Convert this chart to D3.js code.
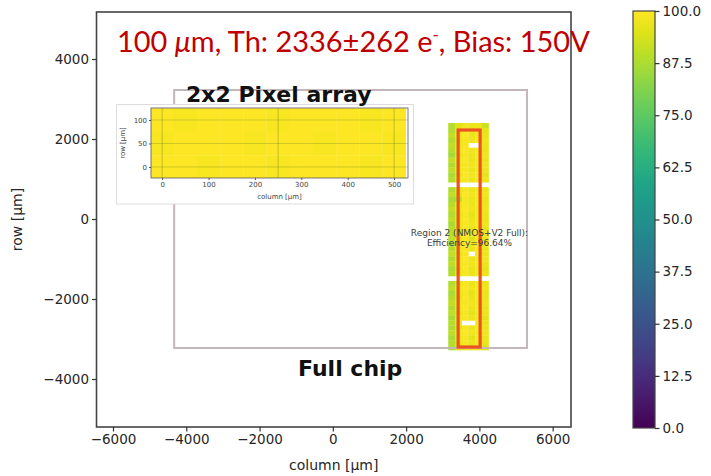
<!DOCTYPE html>
<html>
<head>
<meta charset="utf-8">
<script src="https://cdn.jsdelivr.net/npm/d3@7"></script>
<style>
  body { margin: 0; background: #fff; }
  svg { display: block; }
  .tick text { font-family: "DejaVu Sans", sans-serif; fill: #262626; }
</style>
</head>
<body>
<div id="vis"></div>
<script>
// ---- data ----
var xTicks = [-6000, -4000, -2000, 0, 2000, 4000, 6000];
var yTicks = [-4000, -2000, 0, 2000, 4000];
var cbarTicks = [0, 12.5, 25, 37.5, 50, 62.5, 75, 87.5, 100];

// full chip outline in um: [xmin, xmax, ymin, ymax]
var chipBounds = [-4330, 5300, -3225, 3225];
// measured strip (region 2) extent in um
var stripBoundsX = [3150, 4250];
var stripBoundsY = [-3275, 2400];
// red region-2 selection box in um
var regionBox = [3420, 4020, -3200, 2225];

// efficiency (%) per strip cell, top row first, null = no hits
var stripEff = [
  [89, 95, 98, 97, 97, 92],
  [88, 97, 100, 98, 100, 96],
  [91, 98, 100, 97, 99, 97],
  [88, 96, 99, 98, 100, 98],
  [90, 97, 99, null, null, 97],
  [89, 98, 100, 98, 99, 97],
  [86, 96, 99, 97, 100, 98],
  [91, 98, 100, 97, 99, 97],
  [88, 97, 99, 98, 100, 98],
  [90, 98, 99, 97, 99, 97],
  [87, 96, 100, 98, 100, 96],
  [89, 97, 99, 97, 99, 97],
  [null, null, null, null, null, null],
  [88, 96, 99, 97, 99, 97],
  [90, 94, 100, 98, 100, 98],
  [87, 89, 99, 97, 99, 97],
  [89, 97, 99, 97, 100, 97],
  [91, 98, 100, 98, 99, 98],
  [88, 96, 99, 96, 100, 97],
  [90, 97, 100, 97, 99, 97],
  [87, 98, 99, 98, 100, 98],
  [89, 96, 99, 96, 99, 96],
  [88, 97, 100, 97, 100, 97],
  [90, 95, 99, 95, 99, 97],
  [87, 97, 100, 97, 99, 98],
  [89, 98, 99, 97, 100, 97],
  [91, 96, 99, null, 99, 97],
  [88, 97, 100, 97, 99, 98],
  [90, 98, 99, 98, 100, 97],
  [87, 96, 100, 97, 99, 96],
  [89, 97, 99, 97, 99, 97],
  [null, null, null, null, null, null],
  [88, 96, 99, 97, 99, 97],
  [90, 98, 100, 98, 100, 98],
  [87, 97, 99, 96, 99, 97],
  [89, 96, 100, 97, 100, 97],
  [91, 98, 99, 98, 99, 98],
  [88, 97, 100, 97, 100, 97],
  [90, 96, 99, 96, 99, 97],
  [87, 98, 99, 97, 99, 96],
  [89, 97, null, null, 99, 97],
  [88, 96, 99, 97, 100, 97],
  [90, 98, 100, 98, 99, 98],
  [87, 97, 99, 96, 100, 97],
  [89, 96, 99, 97, 99, 97],
  [88, 95, 98, 97, 98, 95]
];

// inset: 2x2 pixel array, 50 um bins, top row first
var insetXTicks = [0, 100, 200, 300, 400, 500];
var insetYTicks = [0, 50, 100];
var insetGridX = [0, 250, 500];
var insetGridY = [0, 50, 100];
var insetEff = [
  [100, 99, 100, 100, 100, 99, 100, 100, 100, 99, 100],
  [99, 100, 100, 100, 99, 100, 100, 99, 100, 100, 99],
  [100, 100, 99, 100, 100, 99, 100, 100, 100, 99, 100]
];

var regionLabel = ['Region 2 (NMOS+V2 Full):', 'Efficiency=96.64%'];

// ---- layout ----
var width = 711, height = 476;
var plot = { left: 96.5, right: 571, top: 12, bottom: 427 };

var svg = d3.select('#vis').append('svg')
    .attr('width', width)
    .attr('height', height);

var color = d3.scaleSequential(d3.interpolateViridis).domain([0, 100]);

var x = d3.scaleLinear().domain([-6450, 6500]).range([plot.left, plot.right]);
var y = d3.scaleLinear().domain([-5200, 5175]).range([plot.bottom, plot.top]);

// frame
svg.append('rect')
    .attr('x', plot.left).attr('y', plot.top)
    .attr('width', plot.right - plot.left)
    .attr('height', plot.bottom - plot.top)
    .attr('fill', '#fff')
    .attr('stroke', '#444')
    .attr('stroke-width', 1.6);

// strip heatmap
var colBand = d3.scaleBand()
    .domain(d3.range(stripEff[0].length))
    .range([x(stripBoundsX[0]), x(stripBoundsX[1])]);
var rowBand = d3.scaleBand()
    .domain(d3.range(stripEff.length))
    .range([y(stripBoundsY[1]), y(stripBoundsY[0])]);

var cells = [];
stripEff.forEach(function (row, i) {
    row.forEach(function (v, j) {
        if (v !== null) cells.push({ r: i, c: j, v: v });
    });
});

svg.append('g').selectAll('rect')
    .data(cells)
    .enter().append('rect')
    .attr('x', function (d) { return colBand(d.c); })
    .attr('y', function (d) { return rowBand(d.r); })
    .attr('width', colBand.bandwidth() + 0.3)
    .attr('height', rowBand.bandwidth() + 0.3)
    .attr('fill', function (d) { return color(d.v); });

// chip outline
svg.append('rect')
    .attr('x', x(chipBounds[0]))
    .attr('y', y(chipBounds[3]))
    .attr('width', x(chipBounds[1]) - x(chipBounds[0]))
    .attr('height', y(chipBounds[2]) - y(chipBounds[3]))
    .attr('fill', 'none')
    .attr('stroke', '#c4b6ba')
    .attr('stroke-width', 2);

// region box
svg.append('rect')
    .attr('x', x(regionBox[0]))
    .attr('y', y(regionBox[3]))
    .attr('width', x(regionBox[1]) - x(regionBox[0]))
    .attr('height', y(regionBox[2]) - y(regionBox[3]))
    .attr('fill', 'none')
    .attr('stroke', '#ec5222')
    .attr('stroke-width', 3.2);

// region label
svg.append('text')
    .attr('x', 469.5).attr('y', 236)
    .attr('text-anchor', 'middle')
    .style('font-family', 'DejaVu Sans, sans-serif')
    .style('font-size', '9px')
    .attr('fill', '#3c3c3c')
    .selectAll('tspan')
    .data(regionLabel)
    .enter().append('tspan')
    .attr('x', 469.5)
    .attr('dy', function (d, i) { return i === 0 ? 0 : 10; })
    .text(function (d) { return d; });

// axes
var xAxis = svg.append('g')
    .attr('transform', 'translate(0,' + plot.bottom + ')')
    .call(d3.axisBottom(x).tickValues(xTicks).tickSize(4.5).tickPadding(3)
        .tickFormat(function (d) { return d < 0 ? '\u2212' + Math.abs(d) : d; }));
var yAxis = svg.append('g')
    .attr('transform', 'translate(' + plot.left + ',0)')
    .call(d3.axisLeft(y).tickValues(yTicks).tickSize(4.5).tickPadding(3)
        .tickFormat(function (d) { return d < 0 ? '\u2212' + Math.abs(d) : d; }));
[xAxis, yAxis].forEach(function (a) {
    a.select('.domain').remove();
    a.selectAll('.tick line').attr('stroke', '#333').attr('stroke-width', 1.2);
    a.selectAll('.tick text').style('font-size', '13.5px');
});

svg.append('text')
    .attr('x', (plot.left + plot.right) / 2).attr('y', 470)
    .attr('text-anchor', 'middle')
    .style('font-family', 'DejaVu Sans, sans-serif')
    .style('font-size', '14px')
    .attr('fill', '#262626')
    .text('column [\u03bcm]');

svg.append('text')
    .attr('transform', 'translate(22,' + ((plot.top + plot.bottom) / 2) + ') rotate(-90)')
    .attr('text-anchor', 'middle')
    .style('font-family', 'DejaVu Sans, sans-serif')
    .style('font-size', '14px')
    .attr('fill', '#262626')
    .text('row [\u03bcm]');

// inset
var inset = { left: 151, right: 408, top: 108, bottom: 178 };
svg.append('rect')
    .attr('x', 116.5).attr('y', 104.5)
    .attr('width', 297).attr('height', 99.5)
    .attr('fill', '#fff')
    .attr('stroke', '#ddd')
    .attr('stroke-width', 1);

var ix = d3.scaleLinear().domain([-24, 530]).range([inset.left, inset.right]);
var iy = d3.scaleLinear().domain([-23.5, 125.5]).range([inset.bottom, inset.top]);

var insetCells = [];
insetEff.forEach(function (row, i) {
    row.forEach(function (v, j) {
        insetCells.push({ r: i, c: j, v: v });
    });
});
var icol = d3.scaleBand().domain(d3.range(insetEff[0].length)).range([ix(-25), ix(525)]);
var irow = d3.scaleBand().domain(d3.range(insetEff.length)).range([iy(125), iy(-25)]);

var ig = svg.append('g');
ig.append('clipPath').attr('id', 'insetclip')
    .append('rect')
    .attr('x', inset.left).attr('y', inset.top)
    .attr('width', inset.right - inset.left)
    .attr('height', inset.bottom - inset.top);
var icells = ig.append('g').attr('clip-path', 'url(#insetclip)');
icells.selectAll('rect')
    .data(insetCells)
    .enter().append('rect')
    .attr('x', function (d) { return icol(d.c); })
    .attr('y', function (d) { return irow(d.r); })
    .attr('width', icol.bandwidth() + 0.3)
    .attr('height', irow.bandwidth() + 0.3)
    .attr('fill', function (d) { return color(d.v); });
icells.selectAll('.gx')
    .data(insetGridX)
    .enter().append('line')
    .attr('x1', function (d) { return ix(d); })
    .attr('x2', function (d) { return ix(d); })
    .attr('y1', inset.top).attr('y2', inset.bottom)
    .attr('stroke', '#6b7a2a').attr('stroke-opacity', 0.4).attr('stroke-width', 1);
icells.selectAll('.gy')
    .data(insetGridY)
    .enter().append('line')
    .attr('y1', function (d) { return iy(d); })
    .attr('y2', function (d) { return iy(d); })
    .attr('x1', inset.left).attr('x2', inset.right)
    .attr('stroke', '#6b7a2a').attr('stroke-opacity', 0.3).attr('stroke-width', 1);
ig.append('rect')
    .attr('x', inset.left).attr('y', inset.top)
    .attr('width', inset.right - inset.left)
    .attr('height', inset.bottom - inset.top)
    .attr('fill', 'none')
    .attr('stroke', '#555').attr('stroke-width', 0.8);

var ixAxis = ig.append('g')
    .attr('transform', 'translate(0,' + inset.bottom + ')')
    .call(d3.axisBottom(ix).tickValues(insetXTicks).tickSize(2).tickPadding(2));
var iyAxis = ig.append('g')
    .attr('transform', 'translate(' + inset.left + ',0)')
    .call(d3.axisLeft(iy).tickValues(insetYTicks).tickSize(2).tickPadding(2));
[ixAxis, iyAxis].forEach(function (a) {
    a.select('.domain').remove();
    a.selectAll('.tick line').attr('stroke', '#555');
    a.selectAll('.tick text').style('font-size', '7px').style('fill', '#444');
});
ig.append('text')
    .attr('x', (inset.left + inset.right) / 2).attr('y', 199)
    .attr('text-anchor', 'middle')
    .style('font-family', 'DejaVu Sans, sans-serif')
    .style('font-size', '7px')
    .attr('fill', '#444')
    .text('column [\u03bcm]');
ig.append('text')
    .attr('transform', 'translate(125,' + ((inset.top + inset.bottom) / 2) + ') rotate(-90)')
    .attr('text-anchor', 'middle')
    .style('font-family', 'DejaVu Sans, sans-serif')
    .style('font-size', '7px')
    .attr('fill', '#444')
    .text('row [\u03bcm]');

// annotations
svg.append('text')
    .attr('x', 186).attr('y', 102)
    .style('font-family', 'DejaVu Sans, sans-serif')
    .style('font-weight', 'bold')
    .style('font-size', '22px')
    .attr('fill', '#111')
    .text('2x2 Pixel array');

svg.append('text')
    .attr('x', 298).attr('y', 376)
    .style('font-family', 'DejaVu Sans, sans-serif')
    .style('font-weight', 'bold')
    .style('font-size', '22px')
    .attr('fill', '#111')
    .text('Full chip');

// title
var title = svg.append('text')
    .attr('x', 117).attr('y', 52)
    .style('font-family', 'Lato, sans-serif')
    .style('font-size', '29px')
    .attr('fill', '#c00000');
title.append('tspan').text('100 ');
title.append('tspan').style('font-style', 'italic').text('\u03bc');
title.append('tspan').text('m, Th: 2336\u00b1262 e');
title.append('tspan').attr('dy', -11).style('font-size', '17px').text('-');
title.append('tspan').attr('dy', 11).text(', Bias: 150V');
// fit title width to the reference
var tw = title.node().getComputedTextLength();
title.style('font-size', (29 * 473 / tw) + 'px');

// colorbar
var cb = { left: 633, right: 655, top: 11, bottom: 428 };
var defs = svg.append('defs');
var grad = defs.append('linearGradient')
    .attr('id', 'viridis')
    .attr('x1', 0).attr('y1', 1).attr('x2', 0).attr('y2', 0);
d3.range(0, 1.0001, 0.05).forEach(function (t) {
    grad.append('stop')
        .attr('offset', t)
        .attr('stop-color', d3.interpolateViridis(t));
});
svg.append('rect')
    .attr('x', cb.left).attr('y', cb.top)
    .attr('width', cb.right - cb.left)
    .attr('height', cb.bottom - cb.top)
    .attr('fill', 'url(#viridis)')
    .attr('stroke', '#444')
    .attr('stroke-width', 1.2);
var cy = d3.scaleLinear().domain([0, 100]).range([cb.bottom, cb.top]);
var cAxis = svg.append('g')
    .attr('transform', 'translate(' + cb.right + ',0)')
    .call(d3.axisRight(cy).tickValues(cbarTicks).tickSize(4.5).tickPadding(3)
        .tickFormat(d3.format('.1f')));
cAxis.select('.domain').remove();
cAxis.selectAll('.tick line').attr('stroke', '#333').attr('stroke-width', 1.2);
cAxis.selectAll('.tick text').style('font-size', '13.5px');
</script>
</body>
</html>
